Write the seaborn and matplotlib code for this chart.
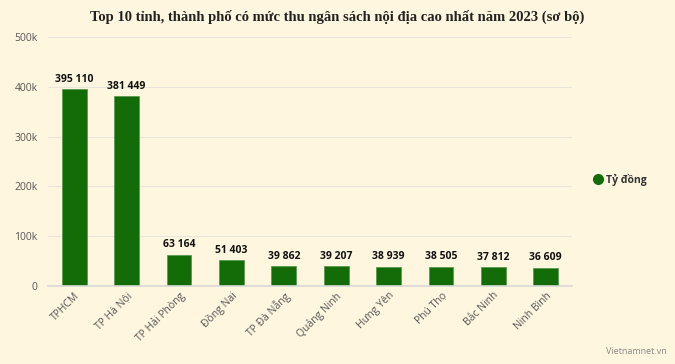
import matplotlib
matplotlib.use("Agg")
import matplotlib.pyplot as plt
import seaborn as sns
import pandas as pd
from matplotlib.lines import Line2D

categories = ["TPHCM", "TP Hà Nội", "TP Hải Phòng", "Đồng Nai", "TP Đà Nẵng",
              "Quảng Ninh", "Hưng Yên", "Phú Thọ", "Bắc Ninh", "Ninh Bình"]
values = [395110, 381449, 63164, 51403, 39862, 39207, 38939, 38505, 37812, 36609]
yticks = [0, 100000, 200000, 300000, 400000, 500000]
ytick_labels = ["0", "100k", "200k", "300k", "400k", "500k"]
series_name = "Tỷ đồng"
title = "Top 10 tỉnh, thành phố có mức thu ngân sách nội địa cao nhất năm 2023 (sơ bộ)"

bg = "#FFF6DF"
bar_color = "#146C08"

sns.set_theme(style="white")
plt.rcParams["font.family"] = ["Open Sans", "DejaVu Sans"]

df = pd.DataFrame({"cat": categories, "val": values})

fig = plt.figure(figsize=(6.75, 3.64), dpi=100, facecolor=bg)
ax = fig.add_axes([48/675, 1 - 286/364, (572-48)/675, (286-37)/364])
ax.set_facecolor(bg)

sns.barplot(data=df, x="cat", y="val", color=bar_color, width=0.47,
            edgecolor="#5a9a50", linewidth=0.6, ax=ax, saturation=1)

ax.set_ylim(0, 500000)
ax.set_xlim(-0.5, len(categories) - 0.5)
ax.set_yticks(yticks)
ax.set_yticklabels(ytick_labels, fontsize=7.5, color="#555555")
ax.yaxis.grid(True, color="#E8E6DC", linewidth=0.8)
ax.set_axisbelow(True)
for s in ["top", "right", "left"]:
    ax.spines[s].set_visible(False)
ax.spines["bottom"].set_color("#D8D8D8")
ax.spines["bottom"].set_linewidth(1.2)
ax.tick_params(axis="y", length=0, pad=7.5)
ax.tick_params(axis="x", length=0, pad=3)
ax.set_xlabel("")
ax.set_ylabel("")
ax.set_xticks(range(len(categories)))
ax.set_xticklabels(categories, rotation=45, ha="right", rotation_mode="anchor",
                   fontsize=7.5, color="#555555")

for i, v in enumerate(values):
    lbl = f"{v:,}".replace(",", " ")
    ax.text(i, v + 9000, lbl, ha="center", va="bottom", fontsize=7.5,
            fontweight="bold", color="#111111")

fig.text(0.5, 1 - 17/364, title, ha="center", va="center", fontsize=10.5,
         fontweight="bold", family=["Liberation Serif", "DejaVu Serif"], color="#222222")

handle = Line2D([0], [0], marker="o", color="none", markerfacecolor=bar_color,
                markeredgecolor=bar_color, markersize=7)
fig.legend([handle], [series_name], loc="center left",
           bbox_to_anchor=(583/675, 1 - 180/364), frameon=False,
           prop={"size": 7.5, "weight": "bold"}, handletextpad=0.3,
           handlelength=1.0, labelcolor="#333333")

fig.text(1 - 8/675, 1 - 352/364, "Vietnamnet.vn", ha="right", va="center",
         fontsize=6.5, color="#888888")

fig.savefig("out.png", dpi=100, facecolor=bg)
